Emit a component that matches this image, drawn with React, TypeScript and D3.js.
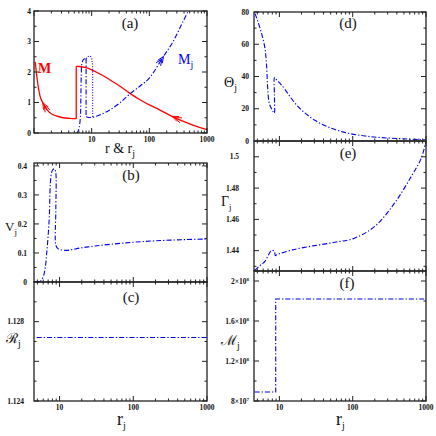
import * as d3 from "d3";

type Pt = [number, number];

// (a) Mach number of accretion flow (M) and of jet (Mj) against r
const machInner: Pt[] = [[1.05, 2.33], [1.12, 1.85], [1.2, 1.45], [1.3, 1.15], [1.45, 0.96], [1.7, 0.75], [2.0, 0.63], [2.5, 0.55], [3.2, 0.5], [4.2, 0.48], [5.4, 0.47]];
const machJump: Pt[] = [[5.4, 0.47], [5.4, 2.18]];
const machOuter: Pt[] = [[5.4, 2.18], [6, 2.18], [8, 2.14], [10, 2.07], [15, 1.9], [20, 1.76], [30, 1.55], [46, 1.3], [70, 1.08], [100, 0.92], [150, 0.76], [257, 0.53], [400, 0.37], [600, 0.24], [1000, 0.11]];
const jetMachRise: Pt[] = [[5.35, 0], [5.7, 0.03], [6.1, 0.2], [6.4, 0.6], [6.5, 1.2], [6.6, 1.9], [6.8, 2.3], [7.3, 2.42], [8.0, 2.44]];
const jetMachShock: Pt[] = [[8.0, 2.44], [8.0, 0.53]];
const jetMachOuter: Pt[] = [[8.0, 0.53], [9, 0.51], [10, 0.51], [12, 0.55], [15, 0.62], [20, 0.74], [30, 0.97], [46, 1.28], [70, 1.55], [100, 1.8], [174, 2.5], [250, 2.95], [350, 3.5], [470, 4.0], [600, 4.5]];
const jetMachAlt: Pt[] = [[8.0, 2.44], [8.5, 2.5], [9.0, 2.52], [9.7, 2.5], [10.2, 2.35], [10.4, 1.5], [10.4, 0.52]];

// (b) jet three-velocity
const jetV: Pt[] = [[4.9, 0], [5.5, 0.003], [6.0, 0.018], [6.4, 0.05], [6.7, 0.1], [7.0, 0.16], [7.26, 0.225], [7.5, 0.34], [7.75, 0.375], [8.0, 0.385], [8.5, 0.39], [8.85, 0.38], [8.9, 0.25], [8.95, 0.125], [9.6, 0.114], [11, 0.11], [12.5, 0.109], [20, 0.118], [30, 0.124], [50, 0.13], [100, 0.137], [200, 0.142], [500, 0.146], [1000, 0.148]];

// (c) Bernoulli parameter
const jetBernoulli: Pt[] = [[4.9, 1.1272], [1000, 1.1272]];

// (d) temperature
const jetTheta: Pt[] = [[4.65, 79], [5.0, 75], [5.7, 66.8], [6.35, 57.5], [6.7, 46], [6.9, 33.7], [7.27, 23.4], [7.98, 19.2], [8.5, 17.2], [8.55, 28], [8.6, 39.5], [9.2, 37.8], [10.7, 34.7], [18, 21.3], [30, 13], [51, 7.9], [87, 4.8], [148, 3.1], [246, 2.1], [470, 1.4], [1000, 0.6]];

// (e) adiabatic index
const jetGamma: Pt[] = [[4.6, 1.4274], [5.4, 1.4304], [6.35, 1.4332], [7.1, 1.4374], [7.8, 1.4402], [8.5, 1.4396], [8.8, 1.4368], [9.2, 1.4374], [15, 1.4405], [30, 1.4432], [60, 1.4455], [106, 1.448], [200, 1.4555], [374, 1.4705], [630, 1.4875], [860, 1.499], [1000, 1.5101]];

// (f) mass outflow rate
const jetMdot: Pt[] = [[4.6, 8.9e7], [8.9, 8.9e7], [8.9, 1.82e8], [1000, 1.82e8]];

const FONT = "'Liberation Serif','DejaVu Serif',serif";
const BLUE = "#0000f2";
const RED = "#ff0000";
const DASHDOT = "5,2,1.3,2";

type Box = { x0: number; x1: number; y0: number; y1: number };
type Tick = { v: number; label?: string; sup?: string };
type Series = { pts: Pt[]; color: string; dash?: string; linear?: boolean };
type Arrow = { tip: Pt; tail: Pt; color: string };

function logTicks(dom: [number, number]) {
  const major: number[] = [];
  const minor: number[] = [];
  for (let p = 1; p <= 1000; p *= 10) {
    if (p >= dom[0] && p <= dom[1]) major.push(p);
    for (let k = 2; k < 10; k++) {
      const v = k * p;
      if (v >= dom[0] && v <= dom[1]) minor.push(v);
    }
  }
  return { major, minor };
}

function Panel(props: {
  id: string;
  box: Box;
  xDom: [number, number];
  yDom: [number, number];
  yTicks: Tick[];
  yMinor: number[];
  labelEnd: number;
  series: Series[];
  xLabels?: boolean;
  arrows?: Arrow[];
  zeroLine?: boolean;
}) {
  const { id, box, xDom, yDom, yTicks, yMinor, labelEnd, series, xLabels, arrows } = props;
  const x = d3.scaleLog().domain(xDom).range([box.x0, box.x1]);
  const y = d3.scaleLinear().domain(yDom).range([box.y1, box.y0]);
  const lt = logTicks(xDom);
  const path = (s: Series) =>
    d3
      .line<Pt>()
      .x((d) => x(d[0]))
      .y((d) => y(d[1]))
      .curve(s.linear ? d3.curveLinear : d3.curveCatmullRom.alpha(0.5))(s.pts) || "";

  const xTick = (v: number, len: number, k: string) => (
    <g key={k}>
      <line x1={x(v)} x2={x(v)} y1={box.y1} y2={box.y1 - len} />
      <line x1={x(v)} x2={x(v)} y1={box.y0} y2={box.y0 + len} />
    </g>
  );
  const yTick = (v: number, len: number, k: string) => (
    <g key={k}>
      <line x1={box.x0} x2={box.x0 + len} y1={y(v)} y2={y(v)} />
      <line x1={box.x1} x2={box.x1 - len} y1={y(v)} y2={y(v)} />
    </g>
  );

  const arrowHeads = (arrows || []).map((a, i) => {
    const tx = x(a.tip[0]);
    const ty = y(a.tip[1]);
    const ang = Math.atan2(ty - y(a.tail[1]), tx - x(a.tail[0]));
    const d = [0, 3].map((off) => {
      const px = tx - off * Math.cos(ang);
      const py = ty - off * Math.sin(ang);
      const l = 7;
      const a1 = ang + Math.PI - 0.4;
      const a2 = ang + Math.PI + 0.4;
      return `M${px + l * Math.cos(a1)},${py + l * Math.sin(a1)}L${px},${py}L${px + l * Math.cos(a2)},${py + l * Math.sin(a2)}`;
    });
    return <path key={i} d={d.join("")} fill="none" stroke={a.color} strokeWidth={1} />;
  });

  return (
    <g>
      <defs>
        <clipPath id={id}>
          <rect x={box.x0} y={box.y0} width={box.x1 - box.x0} height={box.y1 - box.y0} />
        </clipPath>
      </defs>
      <g clipPath={`url(#${id})`}>
        {series.map((s, i) => (
          <path key={i} d={path(s)} fill="none" stroke={s.color} strokeWidth={s.dash ? 1.1 : 1.3} strokeDasharray={s.dash} />
        ))}
        {arrowHeads}
      </g>
      <g stroke="#222" strokeWidth={1}>
        {lt.major.map((v) => xTick(v, 5, "M" + v))}
        {lt.minor.map((v) => xTick(v, 2.5, "m" + v))}
        {yTicks.map((t) => yTick(t.v, 5, "Y" + t.v))}
        {yMinor.map((v) => yTick(v, 2.5, "y" + v))}
      </g>
      <rect x={box.x0} y={box.y0} width={box.x1 - box.x0} height={box.y1 - box.y0} fill="none" stroke="#222" strokeWidth={1.3} />
      {props.zeroLine && <line x1={box.x0} x2={box.x1} y1={y(0)} y2={y(0)} stroke="#666" strokeWidth={2} />}
      <g fontFamily={FONT} fontSize={7.5} fontWeight="bold" fill="#111">
        {yTicks
          .filter((t) => t.label)
          .map((t) => (
            <text key={t.v} x={labelEnd} y={y(t.v) + 2.6} textAnchor="end">
              {t.label}
              {t.sup && (
                <tspan fontSize={5} dy={-3}>
                  {t.sup}
                </tspan>
              )}
            </text>
          ))}
        {xLabels &&
          lt.major
            .filter((v) => v >= 10)
            .map((v) => (
              <text key={v} x={x(v)} y={box.y1 + 8.5} textAnchor="middle">
                {v}
              </text>
            ))}
      </g>
    </g>
  );
}

const range = (a: number, b: number, s: number) => d3.range(a, b + s / 2, s).map((v) => +v.toFixed(6));

export default function App() {
  const leftX = { x0: 34, x1: 207 };
  const rightX = { x0: 254, x1: 426 };
  const domJ: [number, number] = [4.5, 1000];
  const sub = (t: string, size = 10, dy = 4) => (
    <tspan fontSize={size} dy={dy}>
      {t}
    </tspan>
  );
  return (
    <svg width={436} height={436} style={{ position: "absolute", left: 0, top: 0, background: "#fff" }}>
      <Panel
        id="pa"
        box={{ ...leftX, y0: 11, y1: 133 }}
        xDom={[1, 1000]}
        yDom={[0, 4]}
        yTicks={[0, 1, 2, 3, 4].map((v) => ({ v, label: String(v) }))}
        yMinor={[0.5, 1.5, 2.5, 3.5]}
        labelEnd={31}
        xLabels
        series={[
          { pts: machInner, color: RED },
          { pts: machJump, color: RED, linear: true },
          { pts: machOuter, color: RED },
          { pts: jetMachRise, color: BLUE, dash: DASHDOT },
          { pts: jetMachShock, color: BLUE, dash: DASHDOT, linear: true },
          { pts: jetMachOuter, color: BLUE, dash: DASHDOT },
          { pts: jetMachAlt, color: BLUE, dash: "1,1.6" },
        ]}
        arrows={[
          { tip: [1.42, 0.99], tail: [1.6, 0.82], color: RED },
          { tip: [250, 0.545], tail: [340, 0.43], color: RED },
          { tip: [176, 2.51], tail: [140, 2.22], color: BLUE },
        ]}
      />
      <Panel
        id="pb"
        box={{ ...leftX, y0: 163, y1: 282 }}
        xDom={domJ}
        yDom={[0, 0.41]}
        yTicks={[0, 0.1, 0.2, 0.3, 0.4].map((v) => ({ v, label: String(v) }))}
        yMinor={[0.05, 0.15, 0.25, 0.35]}
        labelEnd={27}
        series={[{ pts: jetV, color: BLUE, dash: DASHDOT }]}
      />
      <Panel
        id="pc"
        box={{ ...leftX, y0: 282, y1: 401 }}
        xDom={domJ}
        yDom={[1.124, 1.13]}
        yTicks={[
          { v: 1.124, label: "1.124" },
          { v: 1.126 },
          { v: 1.128, label: "1.128" },
        ]}
        yMinor={[1.125, 1.127, 1.129]}
        labelEnd={24}
        xLabels
        series={[{ pts: jetBernoulli, color: BLUE, dash: DASHDOT, linear: true }]}
      />
      <Panel
        id="pd"
        box={{ ...rightX, y0: 12, y1: 141 }}
        xDom={domJ}
        yDom={[0, 80]}
        yTicks={range(0, 80, 20).map((v) => ({ v, label: String(v) }))}
        yMinor={range(10, 70, 20)}
        labelEnd={249}
        zeroLine
        series={[{ pts: jetTheta, color: BLUE, dash: DASHDOT }]}
      />
      <Panel
        id="pe"
        box={{ ...rightX, y0: 141, y1: 271 }}
        xDom={domJ}
        yDom={[1.427, 1.5101]}
        yTicks={[1.44, 1.46, 1.48, 1.5].map((v) => ({ v, label: String(v) }))}
        yMinor={[1.43, 1.45, 1.47, 1.49]}
        labelEnd={239}
        series={[{ pts: jetGamma, color: BLUE, dash: DASHDOT }]}
      />
      <Panel
        id="pf"
        box={{ ...rightX, y0: 271, y1: 401 }}
        xDom={domJ}
        yDom={[8e7, 2.1e8]}
        yTicks={[
          { v: 8e7, label: "8×10", sup: "7" },
          { v: 1.2e8, label: "1.2×10", sup: "8" },
          { v: 1.6e8, label: "1.6×10", sup: "8" },
          { v: 2e8, label: "2×10", sup: "8" },
        ]}
        yMinor={[1e8, 1.4e8, 1.8e8]}
        labelEnd={249}
        xLabels
        series={[{ pts: jetMdot, color: BLUE, dash: DASHDOT, linear: true }]}
      />

      <g fontFamily={FONT} fill="#111">
        <g fontSize={15} textAnchor="middle">
          <text x={130} y={28}>(a)</text>
          <text x={131} y={180}>(b)</text>
          <text x={131} y={302}>(c)</text>
          <text x={348} y={28}>(d)</text>
          <text x={348} y={158}>(e)</text>
          <text x={347} y={288}>(f)</text>
        </g>
        <text x={38} y={73} fontSize={14} fill={RED} fontWeight="bold">M</text>
        <text x={178} y={64} fontSize={14} fill={BLUE}>
          M{sub("j")}
        </text>
        <text x={120} y={153} fontSize={14} textAnchor="middle">
          r &amp; r{sub("j")}
        </text>
        <text x={5} y={231} fontSize={13}>V{sub("j", 9)}</text>
        <text x={6} y={343} fontSize={14}>ℛ{sub("j")}</text>
        <text x={224} y={87} fontSize={14}>Θ{sub("j")}</text>
        <text x={221} y={206} fontSize={14}>Γ{sub("j", 9, 3.5)}</text>
        <text x={221} y={345} fontSize={14}>ℳ{sub("j")}</text>
        <text x={117} y={425} fontSize={18}>r{sub("j")}</text>
        <text x={336} y={425} fontSize={18}>r{sub("j")}</text>
      </g>
    </svg>
  );
}
